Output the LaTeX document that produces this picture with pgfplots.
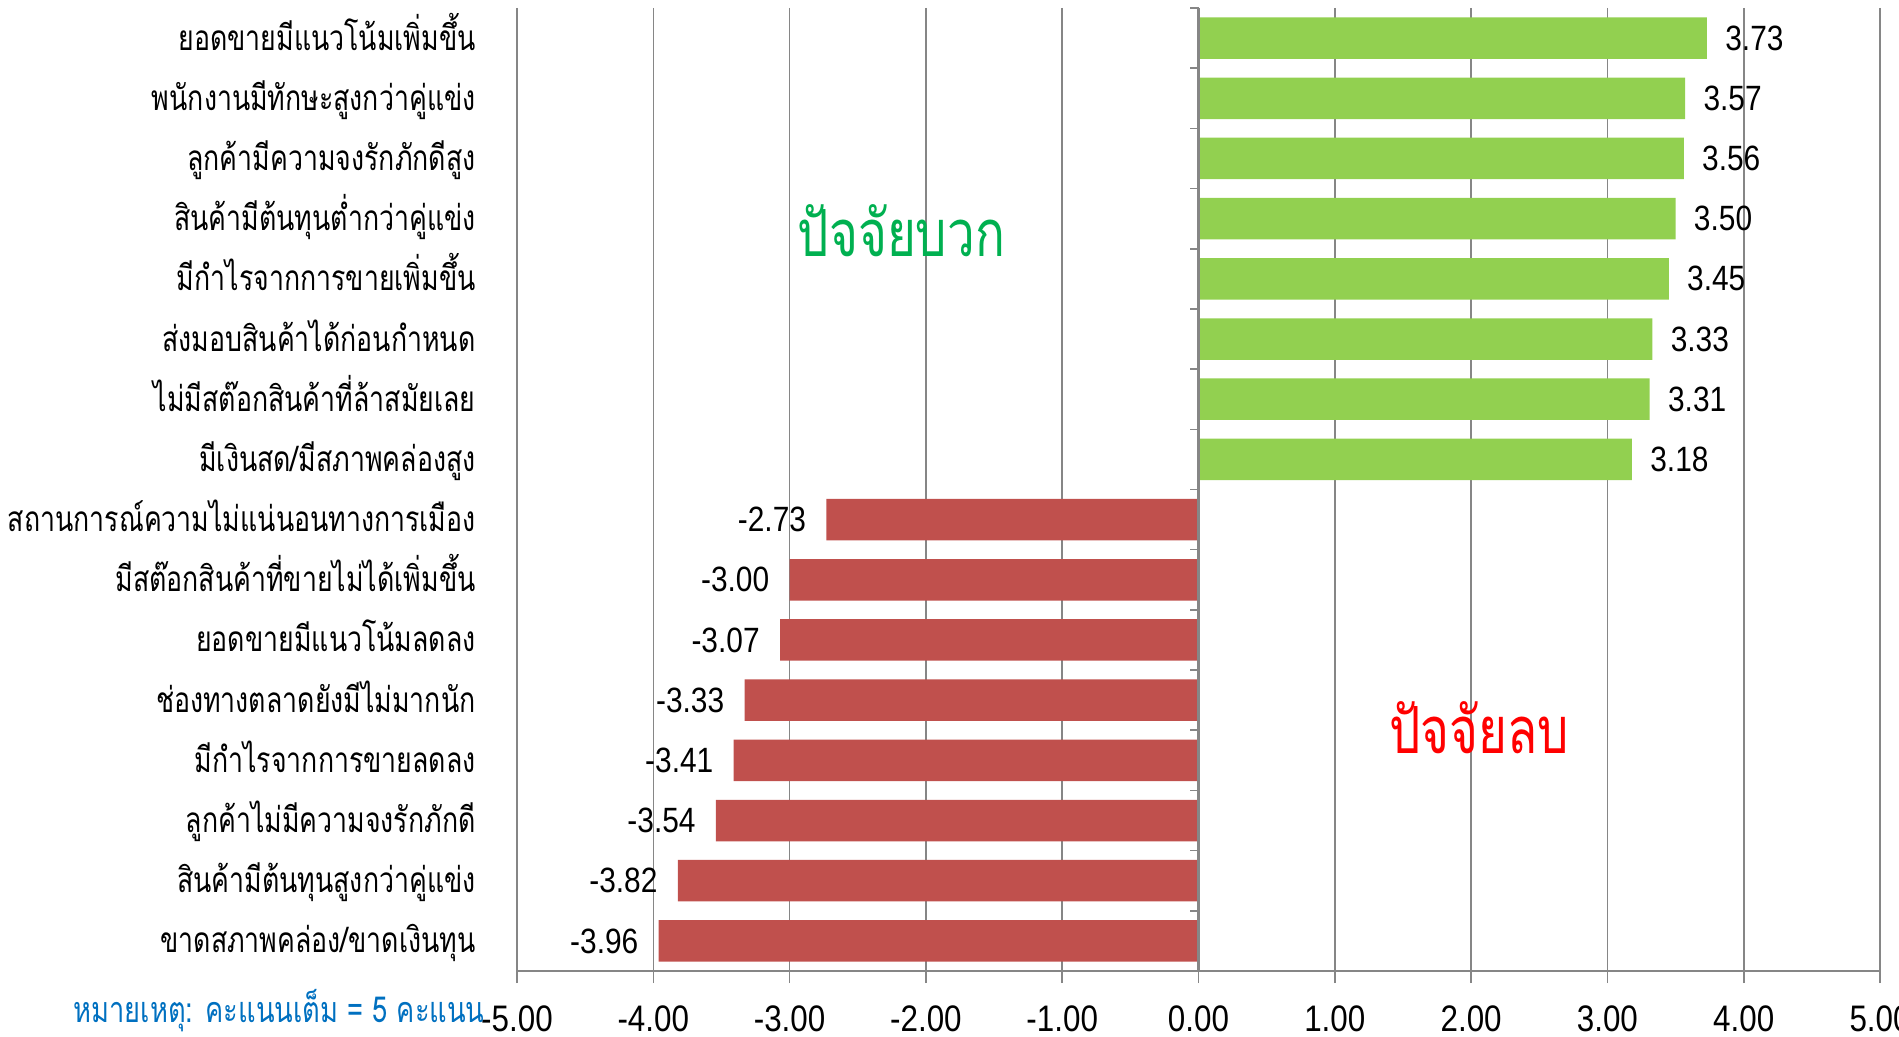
\documentclass[border=0pt]{standalone}
\usepackage{fontspec}
\setmainfont[Script=Thai,FakeStretch=0.76]{Loma}
\newfontfamily\numfont[FakeStretch=0.85]{Liberation Sans}
\usepackage{pgfplots}
\pgfplotsset{compat=1.18}

\definecolor{posbar}{HTML}{92D050}
\definecolor{negbar}{HTML}{C0504D}
\definecolor{gridgray}{HTML}{868686}
\definecolor{postext}{HTML}{00B050}
\definecolor{noteblue}{HTML}{0070C0}

\begin{document}
\begin{tikzpicture}
\useasboundingbox (-5.17cm,-0.66cm) rectangle (13.82cm,9.71cm);
\begin{axis}[
  scale only axis, width=13.63cm, height=9.63cm,
  xbar, bar width=0.69, bar shift=0pt,
  xmin=-5, xmax=5, ymin=-0.5, ymax=15.5, y dir=reverse,
  clip=false,
  separate axis lines,
  axis x line*=bottom,
  x axis line style={gridgray, line width=0.6pt},
  y axis line style={draw=none},
  xtick={-5,-4,...,5},
  xmajorgrids, grid style={gridgray, line width=0.45pt},
  xtick style={gridgray, line width=0.45pt},
  tick align=outside, major tick length=1.2mm,
  /pgf/number format/assume math mode=true,
  xticklabel={\numfont\pgfmathprintnumber[fixed,fixed zerofill,precision=2]{\tick}},
  x tick label style={font=\fontsize{10.5}{12}\selectfont, yshift=-1mm},
  ytick={0,...,15},
  ytick style={draw=none},
  yticklabels={ยอดขายมีแนวโน้มเพิ่มขึ้น, พนักงานมีทักษะสูงกว่าคู่แข่ง, ลูกค้ามีความจงรักภักดีสูง, สินค้ามีต้นทุนต่ำกว่าคู่แข่ง, มีกำไรจากการขายเพิ่มขึ้น, ส่งมอบสินค้าได้ก่อนกำหนด, ไม่มีสต๊อกสินค้าที่ล้าสมัยเลย, มีเงินสด/มีสภาพคล่องสูง, สถานการณ์ความไม่แน่นอนทางการเมือง, มีสต๊อกสินค้าที่ขายไม่ได้เพิ่มขึ้น, ยอดขายมีแนวโน้มลดลง, ช่องทางตลาดยังมีไม่มากนัก, มีกำไรจากการขายลดลง, ลูกค้าไม่มีความจงรักภักดี, สินค้ามีต้นทุนสูงกว่าคู่แข่ง, ขาดสภาพคล่อง/ขาดเงินทุน},
  y tick label style={font=\fontsize{10}{12}\selectfont, anchor=base east, xshift=-1.7mm, yshift=-1.2mm},
  nodes near coords={\numfont\pgfmathprintnumber[fixed,fixed zerofill,precision=2]{\pgfplotspointmeta}},
  nodes near coords style={font=\fontsize{10}{12}\selectfont, black},
]
% positive factors
\addplot[fill=posbar, draw=none,
  every node near coord/.append style={anchor=west, xshift=0.6mm}]
  coordinates {(3.73,0) (3.57,1) (3.56,2) (3.50,3) (3.45,4) (3.33,5) (3.31,6) (3.18,7)};
% negative factors
\addplot[fill=negbar, draw=none,
  every node near coord/.append style={anchor=east, xshift=-0.8mm}]
  coordinates {(-2.73,8) (-3.00,9) (-3.07,10) (-3.33,11) (-3.41,12) (-3.54,13) (-3.82,14) (-3.96,15)};

% vertical axis at zero with boundary ticks
\draw[gridgray, line width=0.6pt] (axis cs:0,-0.5) -- (axis cs:0,15.5);
\pgfplotsinvokeforeach{-0.5,0.5,...,15.5}{
  \draw[gridgray, line width=0.45pt] (axis cs:0,#1) -- ([xshift=-0.9mm]axis cs:0,#1);
}

\node[postext, font=\fontsize{18.5}{22}\selectfont] at (axis cs:-2.18,3.2) {ปัจจัยบวก};
\node[red, font=\fontsize{18.5}{22}\selectfont] at (axis cs:2.06,11.45) {ปัจจัยลบ};
\node[noteblue, anchor=east, font=\fontsize{10.2}{12}\selectfont]
  at ([xshift=-2mm,yshift=-4mm]axis cs:-5,15.5) {หมายเหตุ: คะแนนเต็ม = 5 คะแนน};
\end{axis}
\end{tikzpicture}
\end{document}
